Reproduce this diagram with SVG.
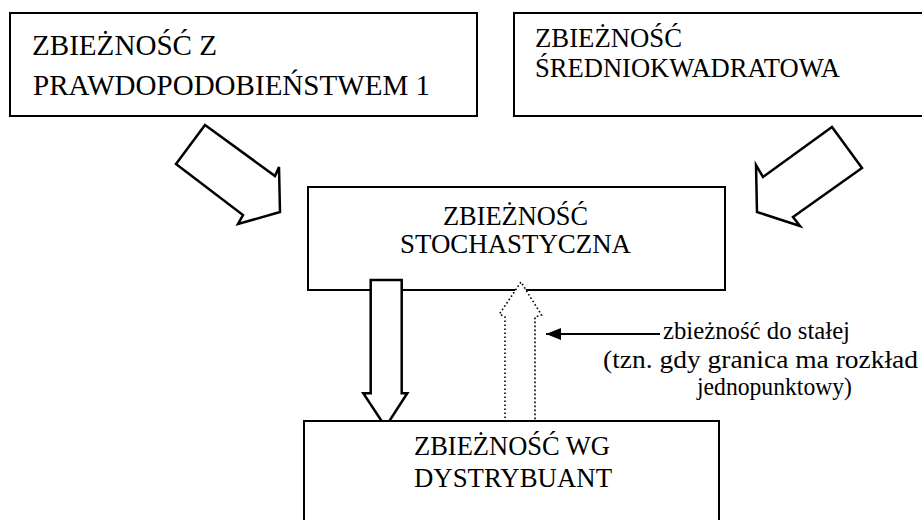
<svg xmlns="http://www.w3.org/2000/svg" width="922" height="520" viewBox="0 0 922 520">
<defs>
<style>
.box{fill:#fff;stroke:#000;stroke-width:2}
.t{font-family:'Liberation Serif','Times New Roman',serif;fill:#000}
.big{font-size:29px}
.mid{font-size:26.5px}
.lab{font-size:24.5px}
.blk{fill:#fff;stroke:#000;stroke-width:2.5;stroke-linejoin:miter}
.dot{fill:#fff;stroke:#000;stroke-width:1.6;stroke-dasharray:1.6 2.4}
.ln{stroke:#000;stroke-width:1.8;fill:none}
</style>
<marker id="ah" viewBox="0 0 10 10" refX="10" refY="5" markerWidth="15" markerHeight="12" markerUnits="userSpaceOnUse" orient="auto" preserveAspectRatio="none">
<path d="M0,0 L10,5 L0,10 Z" fill="#000"/>
</marker>
</defs>
<rect width="922" height="520" fill="#fff"/>
<g id="node-prawdopodobienstwo">
<rect class="box" x="10" y="13" width="467" height="103"/>
<text class="t big" x="32" y="55" textLength="185" lengthAdjust="spacingAndGlyphs">ZBIEŻNOŚĆ Z</text>
<text class="t big" x="33" y="95" textLength="397" lengthAdjust="spacingAndGlyphs">PRAWDOPODOBIEŃSTWEM 1</text>
</g>
<g id="node-sredniokwadratowa">
<rect class="box" x="514" y="13" width="420" height="103"/>
<text class="t mid" x="535" y="47" textLength="147" lengthAdjust="spacingAndGlyphs">ZBIEŻNOŚĆ</text>
<text class="t mid" x="535" y="77" textLength="305" lengthAdjust="spacingAndGlyphs">ŚREDNIOKWADRATOWA</text>
</g>
<g id="node-stochastyczna">
<rect class="box" x="308" y="187" width="417" height="103"/>
<text class="t mid" x="443" y="225" textLength="145" lengthAdjust="spacingAndGlyphs">ZBIEŻNOŚĆ</text>
<text class="t mid" x="400" y="253" textLength="231" lengthAdjust="spacingAndGlyphs">STOCHASTYCZNA</text>
</g>
<g id="connectors">
<polygon class="blk" points="205,125 275,176 279,167 280,212 238,224 243,215 176,164"/>
<polygon class="blk" points="832,127 862,168 793,217 800,226 757,212 756,165 763,177"/>
<polygon class="blk" points="370.7,280 401.7,280 401.7,393.3 407.3,393.3 385.5,427 363.3,393.3 370.7,393.3"/>
<polygon class="dot" points="505,430 505,317 499.5,314 521,282 541.5,315 535,317 535,430"/>
<line class="ln" x1="660" y1="334" x2="546" y2="334" marker-end="url(#ah)"/>
<text class="t lab" x="663" y="339" textLength="187" lengthAdjust="spacingAndGlyphs">zbieżność do stałej</text>
<text class="t lab" x="603" y="368" textLength="315" lengthAdjust="spacingAndGlyphs">(tzn. gdy granica ma rozkład</text>
<text class="t lab" x="697" y="395" textLength="155" lengthAdjust="spacingAndGlyphs">jednopunktowy)</text>
</g>
<g id="node-dystrybuanty">
<rect class="box" x="304" y="421" width="415" height="110"/>
<text class="t mid" x="414" y="455" textLength="196" lengthAdjust="spacingAndGlyphs">ZBIEŻNOŚĆ WG</text>
<text class="t mid" x="414" y="487" textLength="198" lengthAdjust="spacingAndGlyphs">DYSTRYBUANT</text>
</g>
</svg>
